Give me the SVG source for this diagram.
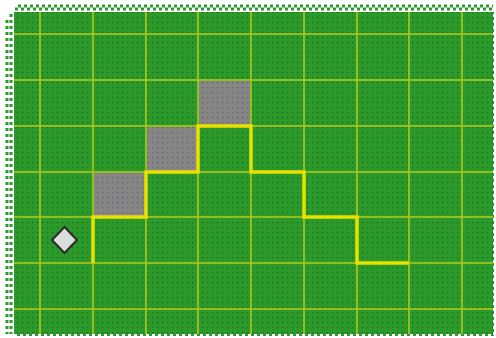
<svg xmlns="http://www.w3.org/2000/svg" width="496" height="338" viewBox="0 0 496 338">
<defs>
<pattern id="grass" width="5" height="5" patternUnits="userSpaceOnUse">
<rect width="5" height="5" fill="#2b9a2b"/>
<rect x="2" y="2" width="1.2" height="1.2" fill="#17641a"/>
</pattern>
<pattern id="stone" width="5" height="5" patternUnits="userSpaceOnUse">
<rect width="5" height="5" fill="#868686"/>
<rect x="2" y="2" width="1.2" height="1.2" fill="#5f5f6e"/>
</pattern>
<style>
.grid{stroke:#a9c41c;stroke-width:2;fill:none;opacity:0.85}
.path{stroke:#ebe000;stroke-width:3.5;fill:none;stroke-linejoin:miter}
.edge{stroke:#2b9a2b;stroke-width:3;stroke-dasharray:3 3;fill:none}
.wedge{stroke:#ffffff;stroke-width:3;stroke-dasharray:3 3;fill:none}
</style>
</defs>
<rect width="496" height="338" fill="#ffffff"/>
<rect x="14" y="12" width="480" height="324" fill="url(#grass)"/>
<g id="edges">
<line class="edge" x1="15" y1="9" x2="493" y2="9"/>
<line class="edge" x1="18" y1="6" x2="493" y2="6" stroke-dasharray="2 4"/>
<line class="edge" x1="11" y1="14" x2="11" y2="334"/>
<line class="edge" x1="7" y1="20" x2="7" y2="334" stroke-dasharray="2 7"/>
<line class="wedge" x1="494.5" y1="14" x2="494.5" y2="336"/>
<line class="wedge" x1="14" y1="335.5" x2="496" y2="335.5"/>
</g>
<g id="grid">
<path class="grid" d="M40 12V334M93 12V334M146 12V334M198 12V334M251 12V334M304 12V334M357 12V334M409 12V334M462 12V334"/>
<path class="grid" d="M14 34H493M14 80H493M14 126H493M14 172H493M14 217H493M14 263H493M14 309H493"/>
</g>
<g id="block1"><rect x="199" y="81" width="51" height="44" fill="url(#stone)"/></g>
<g id="block2"><rect x="147" y="127" width="50" height="44" fill="url(#stone)"/></g>
<g id="block3"><rect x="94" y="173" width="51" height="43" fill="url(#stone)"/></g>
<g id="connectors">
<path class="path" d="M93 263V217H146V172H198V126H251V172H304V217H357V263H409"/>
</g>
<g id="player">
<path d="M64.5 227L77 240L64.5 253L52 240Z" fill="#dcdcdc" stroke="#2a2a2a" stroke-width="2"/>
</g>
</svg>
